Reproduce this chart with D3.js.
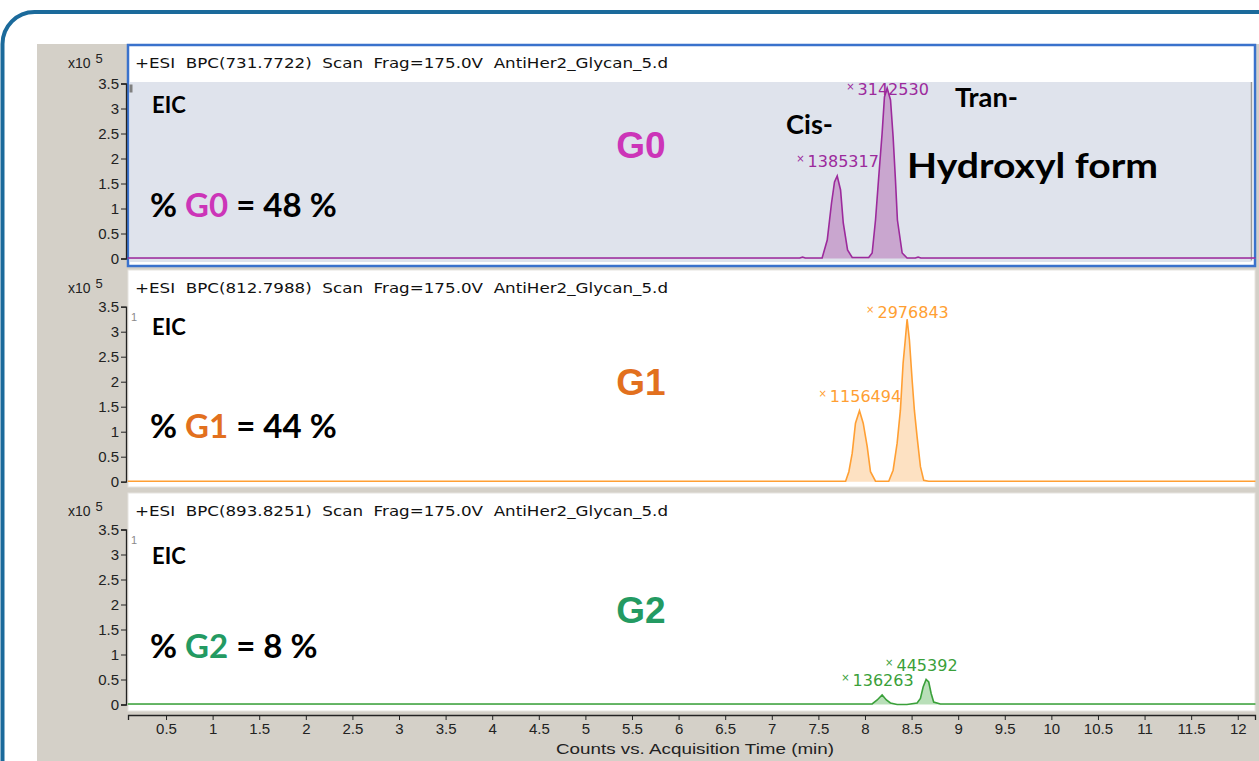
<!DOCTYPE html>
<html><head><meta charset="utf-8">
<script src="https://cdn.jsdelivr.net/npm/d3@7/dist/d3.min.js"></script>
<style>body{margin:0;background:#fff;} svg{display:block;}</style>
</head><body>
<script>
// ---------------- DATA ----------------
const glycans = ["G0", "G1", "G2"];
const percents = [48, 44, 8];
const headers = [
  "+ESI  BPC(731.7722)  Scan  Frag=175.0V  AntiHer2_Glycan_5.d",
  "+ESI  BPC(812.7988)  Scan  Frag=175.0V  AntiHer2_Glycan_5.d",
  "+ESI  BPC(893.8251)  Scan  Frag=175.0V  AntiHer2_Glycan_5.d"
];
const timeTicks = [0.5,1,1.5,2,2.5,3,3.5,4,4.5,5,5.5,6,6.5,7,7.5,8,8.5,9,9.5,10,10.5,11,11.5,12];
const countTicks = [0,0.5,1,1.5,2,2.5,3,3.5];
const countTickLabels = ["0","0.5","1","1.5","2","2.5","3","3.5"];
const xTitle = "Counts vs. Acquisition Time (min)";

// traces: [time (min), counts (x10^5)]
const g0Trace = [[0.09,0.01],[7.30,0.01],[7.33,0.03],[7.36,0.01],[7.54,0.01],[7.595,0.37],[7.641,1.11],[7.673,1.53],[7.702,1.65],[7.738,1.37],[7.767,0.71],[7.813,0.17],[7.863,0.02],[8.04,0.02],[8.077,0.11],[8.113,0.77],[8.145,1.57],[8.184,2.51],[8.209,3.23],[8.238,3.41],[8.274,3.17],[8.302,2.43],[8.327,1.57],[8.348,0.77],[8.399,0.11],[8.452,0.01],[8.54,0.01],[8.57,0.03],[8.60,0.01],[12.19,0.01]];
const g1Trace = [[0.09,0.01],[7.792,0.01],[7.827,0.2],[7.863,0.57],[7.898,1.17],[7.941,1.42],[7.981,1.17],[8.024,0.7],[8.059,0.2],[8.113,0.01],[8.20,0.01],[8.255,0.01],[8.302,0.23],[8.345,0.77],[8.380,1.43],[8.409,2.37],[8.434,2.87],[8.452,3.25],[8.477,2.83],[8.506,2.03],[8.530,1.43],[8.559,0.9],[8.595,0.3],[8.630,0.03],[8.684,0.01],[12.19,0.01]];
const g2Trace = [[0.09,0.01],[8.077,0.01],[8.131,0.09],[8.184,0.19],[8.230,0.09],[8.273,0.03],[8.345,0.0],[8.45,0.0],[8.559,0.03],[8.595,0.12],[8.624,0.35],[8.656,0.50],[8.684,0.45],[8.710,0.22],[8.737,0.05],[8.809,0.01],[12.19,0.01]];
const traces = [g0Trace, g1Trace, g2Trace];

// apex labels: [time, counts, label]
const g0Peaks = [[7.702,1.65,"1385317"],[8.238,3.41,"3142530"]];
const g1Peaks = [[7.941,1.42,"1156494"],[8.452,3.25,"2976843"]];
const g2Peaks = [[8.184,0.19,"136263"],[8.656,0.50,"445392"]];
const peaks = [g0Peaks, g1Peaks, g2Peaks];

// ---------------- STYLE / LAYOUT ----------------
const lineColors = ["#9c2a9c", "#ff9f33", "#3aa03a"];
const fillColors = ["#c9a6cf", "#fde1c2", "#b9dfb9"];
const labelColors = ["#cc35b8", "#e2701e", "#239a62"];
const W = 1259, H = 761;
const plotLeft = 128, plotRight = 1255;
const panelTop = [45, 270, 493];
const panelBottom = [266, 487, 711];
const zeroY = [258.5, 481.7, 704.5];

const svg = d3.select("body").append("svg").attr("width", W).attr("height", H)
  .style("font-family", "'Liberation Sans', Arial, sans-serif");

// outer rounded frame
svg.append("rect").attr("x", 2.5).attr("y", 12).attr("width", 1400).attr("height", 900)
  .attr("rx", 32).attr("fill", "#fff").attr("stroke", "#1b6a9b").attr("stroke-width", 4);
svg.append("rect").attr("x", 37).attr("y", 44).attr("width", W - 37).attr("height", H - 44).attr("fill", "#d4d0c8");

const x = d3.scaleLinear().domain([0.092, 12.185]).range([plotLeft, plotRight]);

glycans.forEach((g, i) => {
  const y = d3.scaleLinear().domain([0, 3.5]).range([zeroY[i], zeroY[i] - 175]);
  const top = panelTop[i], bot = panelBottom[i];
  const p = svg.append("g");
  // panel box
  p.append("rect").attr("x", plotLeft).attr("y", top).attr("width", plotRight - plotLeft).attr("height", bot - top)
    .attr("fill", "#fff").attr("stroke", i === 0 ? "#3a72cc" : "#e6e4df").attr("stroke-width", i === 0 ? 2.5 : 1);
  if (i === 0) {
    p.append("rect").attr("x", plotLeft + 2).attr("y", y(3.5) - 1.5).attr("width", 1251.5 - plotLeft - 2)
      .attr("height", zeroY[i] + 3.5 - (y(3.5) - 1.5)).attr("fill", "#dfe3ec");
    p.append("line").attr("x1", 1251.5).attr("x2", 1251.5).attr("y1", y(3.5) - 1.5).attr("y2", zeroY[i] + 2)
      .attr("stroke", "#9a9a9a").attr("stroke-width", 1.5);
    p.append("rect").attr("x", 129.5).attr("y", y(3.5) + 1).attr("width", 3).attr("height", 8).attr("fill", "#808080");
  } else {
    p.append("text").attr("x", 131).attr("y", y(3.5) + 14).attr("font-size", 11).attr("fill", "#8a8a8a").text("1");
  }
  // header
  p.append("text").attr("x", 135).attr("y", top + 23).attr("font-size", 14.5).attr("fill", "#111")
    .attr("font-family", "'DejaVu Sans', sans-serif").attr("textLength", 533).attr("lengthAdjust", "spacingAndGlyphs")
    .style("white-space", "pre").text(headers[i]);
  // x10^5
  const ex = p.append("text").attr("x", 68).attr("y", top + 23).attr("font-size", 14).attr("fill", "#222");
  ex.append("tspan").text("x10");
  ex.append("tspan").attr("dx", 5).attr("dy", -5).attr("font-size", 13).text("5");

  // y axis
  const yAxis = d3.axisLeft(y).tickValues(countTicks).tickSize(5).tickPadding(2)
    .tickFormat((d, k) => countTickLabels[k]);
  const ya = p.append("g").attr("transform", `translate(${plotLeft - 2},0)`).call(yAxis);
  ya.select(".domain").attr("stroke", "#222").attr("stroke-width", 1.3);
  ya.selectAll(".tick line").attr("stroke", "#222");
  ya.selectAll(".tick text").attr("font-size", 15).attr("fill", "#222")
    .attr("font-family", "'Liberation Sans', Arial, sans-serif");

  // trace
  const data = traces[i];
  const area = d3.area().x(d => x(d[0])).y0(y(0)).y1(d => y(d[1]));
  const line = d3.line().x(d => x(d[0])).y(d => y(d[1]));
  p.append("path").datum(data).attr("d", area).attr("fill", fillColors[i]);
  p.append("path").datum(data).attr("d", line).attr("fill", "none").attr("stroke", lineColors[i]).attr("stroke-width", 1.6);

  // peak labels
  peaks[i].forEach(pk => {
    const ty = Math.max(y(pk[1]) - 9, y(3.5) + 11);
    const t = p.append("text").attr("x", x(pk[0]) - 41).attr("y", ty).attr("fill", lineColors[i])
      .attr("font-size", 16).attr("font-family", "'DejaVu Sans', sans-serif");
    t.append("tspan").attr("font-size", 10).attr("dy", -5).text("×");
    t.append("tspan").attr("dx", 3).attr("dy", 5).text(pk[2]);
  });

  // annotations
  const eicY = [113, 335, 564][i];
  p.append("text").attr("x", 152).attr("y", eicY).attr("font-family", "Lato, sans-serif").attr("font-weight", 700)
    .attr("font-size", 22).attr("fill", "#000").text("EIC");
  const pctY = [217, 438, 658][i];
  const pt = p.append("text").attr("x", 150).attr("y", pctY).attr("font-family", "Lato, sans-serif")
    .attr("font-weight", 700).attr("font-size", 33).attr("fill", "#000");
  pt.append("tspan").text("% ");
  pt.append("tspan").attr("fill", labelColors[i]).text(g);
  pt.append("tspan").text(" = " + percents[i] + " %");
  const gY = [158, 395, 623][i];
  p.append("text").attr("x", 641).attr("y", gY).attr("text-anchor", "middle").attr("font-weight", 700)
    .attr("font-size", 37).attr("fill", labelColors[i]).text(g);
});

// extra annotations in top panel
svg.append("text").attr("x", 786).attr("y", 134).attr("font-family", "Lato, sans-serif").attr("font-weight", 700)
  .attr("font-size", 26).attr("textLength", 47).attr("lengthAdjust", "spacingAndGlyphs").text("Cis-");
svg.append("text").attr("x", 955).attr("y", 107).attr("font-family", "Lato, sans-serif").attr("font-weight", 700)
  .attr("font-size", 26).attr("textLength", 63).attr("lengthAdjust", "spacingAndGlyphs").text("Tran-");
svg.append("text").attr("x", 907).attr("y", 178).attr("font-family", "Lato, sans-serif").attr("font-weight", 700)
  .attr("font-size", 35).attr("textLength", 251).attr("lengthAdjust", "spacingAndGlyphs").text("Hydroxyl form");

// x axis
const xAxis = d3.axisBottom(x).tickValues(timeTicks).tickSize(5).tickPadding(3).tickFormat(d => String(d));
const xa = svg.append("g").attr("transform", "translate(0,715)").call(xAxis);
xa.select(".domain").attr("stroke", "#222").attr("stroke-width", 1.3);
xa.selectAll(".tick line").attr("stroke", "#222");
xa.selectAll(".tick text").attr("font-size", 15).attr("fill", "#222").attr("font-family", "'Liberation Sans', Arial, sans-serif");
svg.append("text").attr("x", 695).attr("y", 754).attr("text-anchor", "middle").attr("font-size", 15).attr("fill", "#222")
  .attr("textLength", 278).attr("lengthAdjust", "spacingAndGlyphs").text(xTitle);
</script>
</body></html>
